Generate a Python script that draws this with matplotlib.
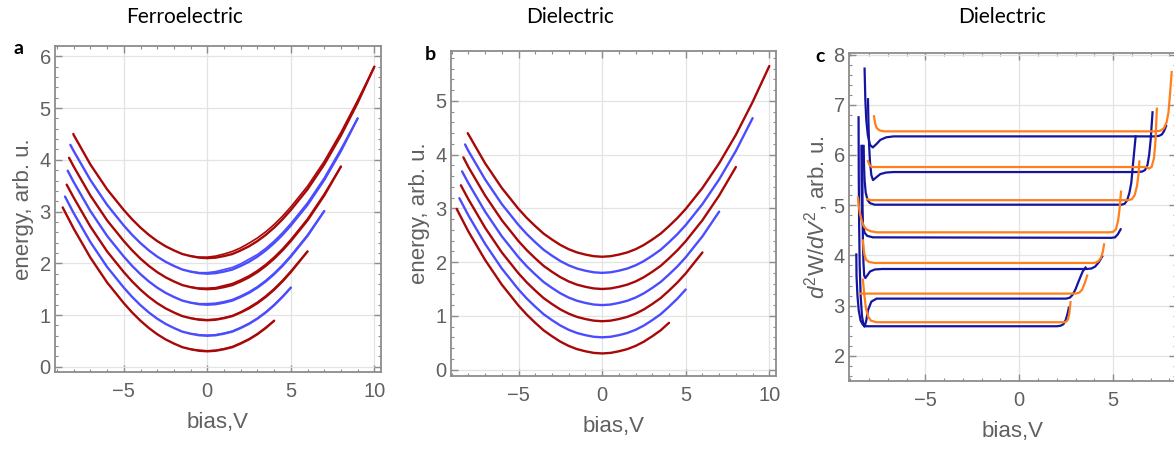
import matplotlib
matplotlib.use("Agg")
import matplotlib.pyplot as plt
from matplotlib.ticker import MultipleLocator

plt.rcParams["font.family"] = ["Liberation Sans", "DejaVu Sans"]
plt.rcParams["mathtext.fontset"] = "custom"
plt.rcParams["mathtext.rm"] = "Liberation Sans"
plt.rcParams["mathtext.it"] = "Liberation Sans:italic"
plt.rcParams["axes.unicode_minus"] = True

# bias values at which the curves of panels a and b were read
BIAS = [-8, -7, -6, -5, -4.5, -4, -3.5, -3, -2.5, -2, -1.5, -1, -0.5, 0,
        0.5, 1, 1.5, 2, 2.5, 3, 3.5, 4, 4.5, 5, 6, 7, 8, 9, 10]

# ---- panel a (ferroelectric)
FE_START = [(-8.66, 3.08), (-8.52, 3.29), (-8.42, 3.52), (-8.36, 3.79),
            (-8.28, 4.04), (-8.20, 4.29), (-8.02, 4.50)]
FE_Y = [
    [2.67, 2.11, 1.63, 1.23, 1.05, 0.89, 0.75, 0.63, 0.53, 0.45, 0.38, 0.34, 0.31, 0.30,
     0.31, 0.34, 0.38, 0.45, 0.53, 0.63, 0.75, 0.89],
    [2.97, 2.41, 1.93, 1.53, 1.35, 1.19, 1.05, 0.93, 0.83, 0.75, 0.68, 0.64, 0.61, 0.60,
     0.61, 0.64, 0.68, 0.75, 0.83, 0.93, 1.05, 1.19, 1.35, 1.53],
    [3.27, 2.71, 2.23, 1.83, 1.65, 1.49, 1.35, 1.23, 1.13, 1.05, 0.98, 0.94, 0.91, 0.90,
     0.91, 0.94, 0.98, 1.05, 1.13, 1.23, 1.35, 1.49, 1.65, 1.83, 2.23],
    [3.57, 3.01, 2.53, 2.13, 1.95, 1.79, 1.65, 1.53, 1.43, 1.35, 1.28, 1.24, 1.21, 1.20,
     1.21, 1.24, 1.28, 1.35, 1.43, 1.53, 1.65, 1.79, 1.95, 2.13, 2.53, 3.01],
    [3.87, 3.31, 2.83, 2.43, 2.25, 2.09, 1.95, 1.83, 1.73, 1.65, 1.58, 1.54, 1.51, 1.50,
     1.51, 1.54, 1.58, 1.65, 1.73, 1.83, 1.95, 2.09, 2.25, 2.43, 2.83, 3.31, 3.87],
    [4.17, 3.61, 3.13, 2.73, 2.55, 2.39, 2.25, 2.13, 2.03, 1.95, 1.88, 1.84, 1.81, 1.80,
     1.81, 1.84, 1.88, 1.95, 2.03, 2.13, 2.25, 2.39, 2.55, 2.73, 3.13, 3.61, 4.17, 4.80],
    [4.48, 3.91, 3.43, 3.03, 2.85, 2.69, 2.55, 2.43, 2.33, 2.25, 2.18, 2.14, 2.11, 2.10,
     2.11, 2.14, 2.18, 2.25, 2.33, 2.43, 2.55, 2.69, 2.85, 3.03, 3.43, 3.91, 4.47, 5.10, 5.80],
]
# return sweep of each hysteresis loop, from bias -1 onwards
FE_RET_Y = [
    [0.34, 0.32, 0.31, 0.32, 0.35, 0.39, 0.46, 0.54, 0.64, 0.76, 0.89],
    [0.64, 0.62, 0.61, 0.62, 0.65, 0.69, 0.76, 0.84, 0.94, 1.06, 1.20, 1.36, 1.53],
    [0.94, 0.92, 0.91, 0.92, 0.95, 0.99, 1.06, 1.15, 1.25, 1.37, 1.51, 1.67, 1.85, 2.23],
    [1.24, 1.22, 1.22, 1.23, 1.26, 1.30, 1.37, 1.45, 1.55, 1.67, 1.81, 1.97, 2.15, 2.55, 3.01],
    [1.54, 1.52, 1.52, 1.53, 1.57, 1.61, 1.68, 1.76, 1.86, 1.98, 2.12, 2.28, 2.46, 2.86,
     3.34, 3.87],
    [1.84, 1.82, 1.82, 1.84, 1.88, 1.92, 1.99, 2.08, 2.17, 2.29, 2.43, 2.59, 2.77, 3.17,
     3.65, 4.21, 4.80],
    [2.14, 2.12, 2.12, 2.14, 2.18, 2.23, 2.30, 2.39, 2.49, 2.61, 2.75, 2.91, 3.09, 3.49,
     3.97, 4.53, 5.15, 5.80],
]

# ---- panel b (dielectric)
DE_START = [(-8.70, 2.99), (-8.54, 3.19), (-8.45, 3.43), (-8.38, 3.69),
            (-8.30, 3.95), (-8.20, 4.19), (-8.04, 4.40)]
DE_Y = [
    [2.57, 2.04, 1.58, 1.19, 1.02, 0.87, 0.73, 0.62, 0.52, 0.44, 0.38, 0.34, 0.31, 0.30,
     0.31, 0.34, 0.38, 0.44, 0.52, 0.62, 0.73, 0.87],
    [2.87, 2.34, 1.88, 1.49, 1.32, 1.17, 1.03, 0.92, 0.82, 0.74, 0.68, 0.64, 0.61, 0.60,
     0.61, 0.64, 0.68, 0.74, 0.82, 0.92, 1.03, 1.17, 1.32, 1.49],
    [3.17, 2.64, 2.18, 1.79, 1.62, 1.47, 1.33, 1.22, 1.12, 1.04, 0.98, 0.94, 0.91, 0.90,
     0.91, 0.94, 0.98, 1.04, 1.12, 1.22, 1.33, 1.47, 1.62, 1.79, 2.18],
    [3.47, 2.94, 2.48, 2.09, 1.92, 1.77, 1.63, 1.52, 1.42, 1.34, 1.28, 1.24, 1.21, 1.20,
     1.21, 1.24, 1.28, 1.34, 1.42, 1.52, 1.63, 1.77, 1.92, 2.09, 2.48, 2.94],
    [3.77, 3.24, 2.78, 2.39, 2.22, 2.07, 1.93, 1.82, 1.72, 1.64, 1.58, 1.54, 1.51, 1.50,
     1.51, 1.54, 1.58, 1.64, 1.72, 1.82, 1.93, 2.07, 2.22, 2.39, 2.78, 3.24, 3.77],
    [4.07, 3.54, 3.08, 2.69, 2.52, 2.37, 2.23, 2.12, 2.02, 1.94, 1.88, 1.84, 1.81, 1.80,
     1.81, 1.84, 1.88, 1.94, 2.02, 2.12, 2.23, 2.37, 2.52, 2.69, 3.08, 3.54, 4.07, 4.68],
    [4.38, 3.84, 3.38, 2.99, 2.82, 2.67, 2.53, 2.42, 2.32, 2.24, 2.18, 2.14, 2.11, 2.10,
     2.11, 2.14, 2.18, 2.24, 2.32, 2.42, 2.53, 2.67, 2.82, 2.99, 3.38, 3.84, 4.37, 4.98, 5.65],
]

# ---- panel c (second derivative)
C_BLUE_V = [
    [-8.68, -8.67, -8.62, -8.55, -8.45, -8.33, -8.15, -7.8, 2.0, 2.2, 2.35, 2.48, 2.58, 2.64],
    [-8.56, -8.55, -8.53, -8.5, -8.45, -8.38, -8.3, -8.24, -8.15, -8.06, -7.88, -7.6, -7.2,
     2.5, 2.7, 2.85, 3.0, 3.2, 3.38, 3.53],
    [-8.36, -8.35, -8.33, -8.3, -8.26, -8.2, -8.1, -7.95, -7.7, -7.3, 3.6, 3.85, 4.05, 4.25, 4.42],
    [-8.41, -8.4, -8.38, -8.33, -8.24, -8.1, -7.8, 4.9, 5.1, 5.25, 5.4],
    [-8.29, -8.27, -8.24, -8.18, -8.08, -7.95, -7.7, 5.45, 5.62, 5.75, 5.87, 5.97, 6.08, 6.2],
    [-8.06, -8.03, -8.0, -7.95, -7.88, -7.79, -7.6, -7.4, -7.1, -6.7,
     6.3, 6.55, 6.7, 6.83, 6.92, 7.0, 7.1],
    [-8.24, -8.2, -8.15, -8.07, -7.95, -7.8, -7.6, -7.4, -7.1, -6.7, 7.2, 7.45, 7.6, 7.72, 7.82],
]
C_BLUE_Y = [
    [4.02, 3.6, 3.2, 2.9, 2.7, 2.62, 2.59, 2.59, 2.59, 2.6, 2.63, 2.72, 2.85, 2.96],
    [6.75, 5.6, 4.6, 3.8, 3.2, 2.8, 2.62, 2.58, 2.7, 2.91, 3.08, 3.14, 3.14,
     3.14, 3.16, 3.22, 3.33, 3.52, 3.68, 3.76],
    [6.18, 5.0, 4.3, 3.85, 3.6, 3.55, 3.6, 3.68, 3.72, 3.73, 3.73, 3.74, 3.78, 3.87, 3.98],
    [6.18, 5.5, 4.9, 4.62, 4.45, 4.39, 4.36, 4.35, 4.36, 4.42, 4.52],
    [6.18, 5.8, 5.5, 5.25, 5.1, 5.04, 5.01, 5.01, 5.03, 5.1, 5.25, 5.45, 5.9, 6.37],
    [7.11, 6.6, 6.2, 5.85, 5.6, 5.5, 5.56, 5.62, 5.65, 5.66,
     5.66, 5.67, 5.7, 5.8, 6.0, 6.3, 6.85],
    [7.72, 7.1, 6.7, 6.4, 6.2, 6.15, 6.22, 6.3, 6.35, 6.37, 6.37, 6.38, 6.41, 6.48, 6.58],
]
C_ORANGE_V = [
    [-8.33, -8.25, -8.17, -8.05, -7.9, -7.6, 2.35, 2.5, 2.6, 2.67, 2.73],
    [-8.5, 3.0, 3.2, 3.35, 3.48, 3.62],
    [-8.33, -8.29, -8.24, -8.15, -8.0, -7.7, 4.0, 4.2, 4.35, 4.45, 4.52],
    [-8.59, -8.55, -8.48, -8.4, -8.28, -8.14, -7.9, -7.6, 4.8, 5.0, 5.15, 5.27, 5.35, 5.42],
    [-8.1, -7.9, 5.8, 6.0, 6.15, 6.27, 6.35, 6.4],
    [-8.06, -7.98, -7.85, 6.75, 6.92, 7.05, 7.18, 7.26, 7.33],
    [-7.74, -7.68, -7.6, -7.45, -7.2, 7.2, 7.5, 7.7, 7.85, 7.95, 8.03, 8.12],
]
C_ORANGE_Y = [
    [3.52, 3.2, 2.95, 2.78, 2.7, 2.67, 2.67, 2.68, 2.73, 2.85, 3.07],
    [3.24, 3.24, 3.26, 3.32, 3.44, 3.6],
    [4.3, 4.12, 4.0, 3.91, 3.87, 3.85, 3.85, 3.88, 3.95, 4.07, 4.22],
    [5.15, 4.98, 4.82, 4.7, 4.58, 4.52, 4.48, 4.46, 4.46, 4.47, 4.52, 4.7, 4.95, 5.27],
    [5.12, 5.1, 5.1, 5.12, 5.2, 5.38, 5.6, 5.87],
    [5.88, 5.8, 5.76, 5.76, 5.73, 5.76, 5.94, 6.3, 6.92],
    [6.77, 6.63, 6.54, 6.49, 6.47, 6.47, 6.48, 6.53, 6.65, 6.85, 7.2, 7.65],
]

RED = "#a80808"
BLUE = "#4c4cff"
NAVY = "#1414a0"
ORANGE = "#ff7f1a"
GRAY = "#606060"
FRAME = "#8c8c8c"

W, H = 1174, 450
fig = plt.figure(figsize=(W / 100, H / 100), dpi=100)


def px_axes(l, t, r, b):
    return fig.add_axes([l / W, 1 - b / H, (r - l) / W, (b - t) / H])


def style(ax):
    ax.xaxis.set_major_locator(MultipleLocator(5))
    ax.xaxis.set_minor_locator(MultipleLocator(1))
    ax.yaxis.set_major_locator(MultipleLocator(1))
    ax.yaxis.set_minor_locator(MultipleLocator(0.2))
    ax.grid(True, which="major", color="#e3e3e3", lw=0.9)
    ax.set_axisbelow(True)
    for s in ax.spines.values():
        s.set_color(FRAME)
        s.set_linewidth(1.3)
    ax.tick_params(which="both", direction="in", top=True, right=True,
                   color=FRAME, labelcolor=GRAY, labelsize=14.5)
    ax.tick_params(which="major", length=5, width=1.0)
    ax.tick_params(which="minor", length=2.5, width=0.8)
    ax.tick_params(axis="x", pad=7)
    ax.tick_params(axis="y", pad=3)
    ax.set_xlabel("bias,V", fontsize=16, color=GRAY, labelpad=8)


def parabolas(ax, starts, ys, lw):
    for i, (st, yv) in enumerate(zip(starts, ys)):
        col = RED if i % 2 == 0 else BLUE
        ax.plot([st[0]] + BIAS[:len(yv)], [st[1]] + yv, color=col, lw=lw,
                solid_capstyle="round", solid_joinstyle="round")


# panel a
axa = px_axes(55, 46, 381, 372)
parabolas(axa, FE_START, FE_Y, 1.7)
back = BIAS[BIAS.index(-1):]
for i, yv in enumerate(FE_RET_Y):
    axa.plot(back[:len(yv)], yv, color=RED if i % 2 == 0 else BLUE, lw=1.2,
             solid_joinstyle="round")
axa.set_xlim(-9.12, 10.4)
axa.set_ylim(-0.1, 6.2)
style(axa)
axa.set_ylabel("energy, arb. u.", fontsize=16, color=GRAY, labelpad=4)

# panel b
axb = px_axes(451, 51, 776, 376)
parabolas(axb, DE_START, DE_Y, 1.7)
axb.set_xlim(-9.04, 10.4)
axb.set_ylim(-0.12, 5.93)
style(axb)
axb.set_ylabel("energy, arb. u.", fontsize=16, color=GRAY, labelpad=4)

# panel c
axc = px_axes(849, 53, 1176, 381)
for v, y in zip(C_BLUE_V, C_BLUE_Y):
    axc.plot(v, y, color=NAVY, lw=1.6, solid_joinstyle="round")
for v, y in zip(C_ORANGE_V, C_ORANGE_Y):
    axc.plot(v, y, color=ORANGE, lw=1.6, solid_joinstyle="round")
axc.set_xlim(-9.07, 8.35)
axc.set_ylim(1.5, 8.03)
style(axc)
axc.set_ylabel(r"$d^2\mathrm{W}/dV^2$, arb. u.", fontsize=16, color=GRAY, labelpad=2)

# titles and panel letters
for x, t in [(185, "Ferroelectric"), (570, "Dielectric"), (1002, "Dielectric")]:
    fig.text(x / W, 1 - 17 / H, t, ha="center", va="center", fontsize=15,
             family="Lato", color="black")
for x, y, t in [(18, 49, "a"), (430, 55, "b"), (820, 57, "c")]:
    fig.text(x / W, 1 - y / H, t, ha="center", va="center", fontsize=14,
             family="Lato", fontweight="bold", color="black")

fig.savefig("out.png", dpi=100)
